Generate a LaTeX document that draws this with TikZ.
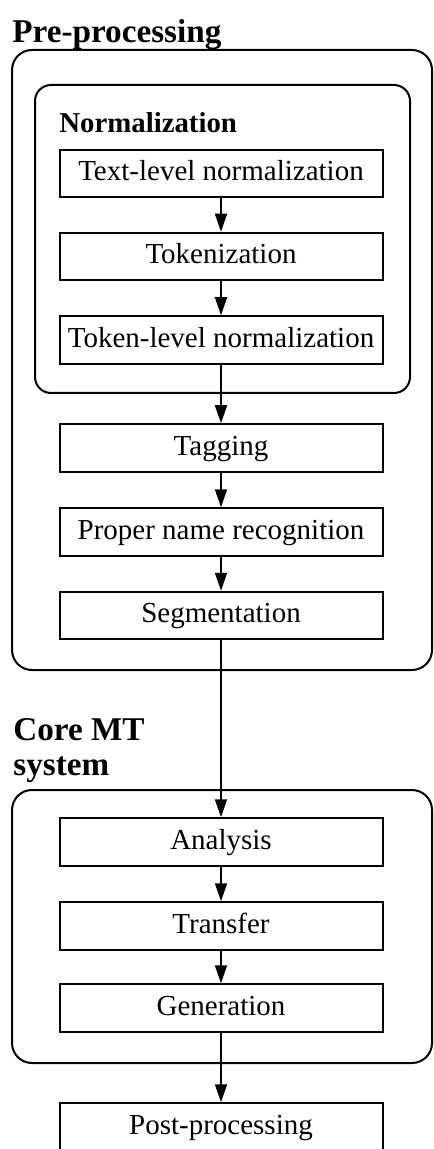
\documentclass[tikz,border=0pt]{standalone}
\usepackage{fontspec}
\setmainfont{Liberation Serif}
\usetikzlibrary{arrows.meta}
\begin{document}
\begin{tikzpicture}[x=0.5pt,y=-0.5pt,
  stepbox/.style={draw,line width=1pt,minimum width=161.5pt,minimum height=23.75pt,inner sep=2pt,
    font=\fontsize{14.5}{17}\selectfont,text height=0.72em,text depth=0pt},
  group/.style={line width=1pt,rounded corners=10pt},
  title/.style={anchor=base west,inner sep=0pt,font=\fontsize{16.6}{19}\selectfont\bfseries},
  subtitle/.style={anchor=base west,inner sep=0pt,font=\fontsize{14.4}{17}\selectfont\bfseries},
  flow/.style={-{Triangle[length=9pt,width=6pt]},line width=0.9pt}]
\useasboundingbox (0,0) rectangle (433,1149);
\clip (0,0) rectangle (433,1149);
% containers
\draw[group] (12,50) rectangle (432,670);
\draw[group,rounded corners=8pt] (35,85) rectangle (410,393);
\draw[group] (12,790) rectangle (432,1063);
% titles
\node[title] (pre) at (12,43) {Pre-processing};
\node[subtitle] (norm) at (59,133) {Normalization};
\node[title] (core1) at (13,740) {Core MT};
\node[title] (core2) at (13,775) {system};
% steps
\node[stepbox] (t1) at (221,173.5) {Text-level normalization};
\node[stepbox] (t2) at (221,256.5) {Tokenization};
\node[stepbox] (t3) at (221,340) {Token-level normalization};
\node[stepbox] (t4) at (221,448) {Tagging};
\node[stepbox] (t5) at (221,532) {Proper name recognition};
\node[stepbox] (t6) at (221,615.5) {Segmentation};
\node[stepbox] (c1) at (221,842) {Analysis};
\node[stepbox] (c2) at (221,926) {Transfer};
\node[stepbox] (c3) at (221,1008) {Generation};
\node[stepbox] (pp) at (221,1127) {Post-processing};
% arrows
\draw[flow] (t1) -- (t2);
\draw[flow] (t2) -- (t3);
\draw[flow] (t3) -- (t4);
\draw[flow] (t4) -- (t5);
\draw[flow] (t5) -- (t6);
\draw[flow] (t6) -- (c1);
\draw[flow] (c1) -- (c2);
\draw[flow] (c2) -- (c3);
\draw[flow] (c3) -- (pp);
\end{tikzpicture}
\end{document}
